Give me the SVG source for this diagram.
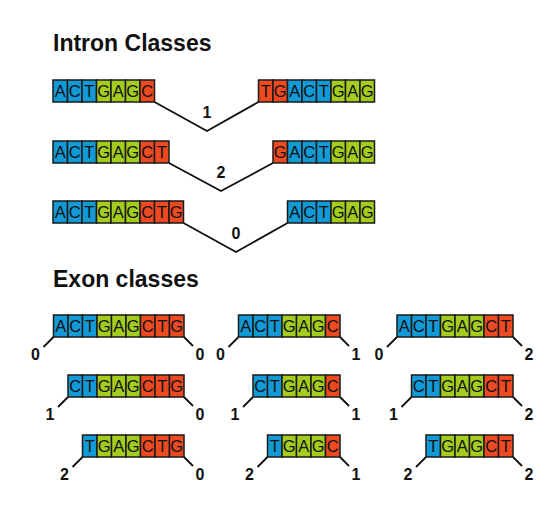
<svg xmlns="http://www.w3.org/2000/svg" width="560" height="531" viewBox="0 0 560 531">
<style>
.b{fill:#129ad7}.g{fill:#a4cc1c}.r{fill:#ee4a22}
rect{stroke:#1a1a1a;stroke-width:1.5;height:22px;width:14.5px}
.seq{font-family:"Liberation Sans",Arial,sans-serif;font-size:16.5px;fill:#111;text-anchor:middle}
.title{font-family:"Liberation Sans",Arial,sans-serif;font-size:23px;font-weight:bold;fill:#111}
.num{font-family:"Liberation Sans",Arial,sans-serif;font-size:16px;font-weight:bold;fill:#111;text-anchor:middle}
.ln{fill:none;stroke:#111;stroke-width:1.8}
</style>
<rect width="560" height="531" x="0" y="0" style="fill:#fff;stroke:none;width:560px;height:531px"/>
<text class="title" x="53" y="51">Intron Classes</text>
<text class="title" x="53" y="287">Exon classes</text>

<g id="intron1-left">
<rect class="b" x="53" y="80"/><rect class="b" x="67.5" y="80"/><rect class="b" x="82" y="80"/><rect class="g" x="96.5" y="80"/><rect class="g" x="111" y="80"/><rect class="g" x="125.5" y="80"/><rect class="r" x="140" y="80"/>
<text class="seq" x="60.25 74.75 89.25 103.75 118.25 132.75 147.25" y="97">ACTGAGC</text>
</g>
<g id="intron1-right">
<rect class="r" x="258.5" y="80"/><rect class="r" x="273" y="80"/><rect class="b" x="287.5" y="80"/><rect class="b" x="302" y="80"/><rect class="b" x="316.5" y="80"/><rect class="g" x="331" y="80"/><rect class="g" x="345.5" y="80"/><rect class="g" x="360" y="80"/>
<text class="seq" x="265.75 280.25 294.75 309.25 323.75 338.25 352.75 367.25" y="97">TGACTGAG</text>
</g>
<g id="intron2-left">
<rect class="b" x="53" y="141"/><rect class="b" x="67.5" y="141"/><rect class="b" x="82" y="141"/><rect class="g" x="96.5" y="141"/><rect class="g" x="111" y="141"/><rect class="g" x="125.5" y="141"/><rect class="r" x="140" y="141"/><rect class="r" x="154.5" y="141"/>
<text class="seq" x="60.25 74.75 89.25 103.75 118.25 132.75 147.25 161.75" y="158">ACTGAGCT</text>
</g>
<g id="intron2-right">
<rect class="r" x="273" y="141"/><rect class="b" x="287.5" y="141"/><rect class="b" x="302" y="141"/><rect class="b" x="316.5" y="141"/><rect class="g" x="331" y="141"/><rect class="g" x="345.5" y="141"/><rect class="g" x="360" y="141"/>
<text class="seq" x="280.25 294.75 309.25 323.75 338.25 352.75 367.25" y="158">GACTGAG</text>
</g>
<g id="intron3-left">
<rect class="b" x="53" y="201"/><rect class="b" x="67.5" y="201"/><rect class="b" x="82" y="201"/><rect class="g" x="96.5" y="201"/><rect class="g" x="111" y="201"/><rect class="g" x="125.5" y="201"/><rect class="r" x="140" y="201"/><rect class="r" x="154.5" y="201"/><rect class="r" x="169" y="201"/>
<text class="seq" x="60.25 74.75 89.25 103.75 118.25 132.75 147.25 161.75 176.25" y="218">ACTGAGCTG</text>
</g>
<g id="intron3-right">
<rect class="b" x="287.5" y="201"/><rect class="b" x="302" y="201"/><rect class="b" x="316.5" y="201"/><rect class="g" x="331" y="201"/><rect class="g" x="345.5" y="201"/><rect class="g" x="360" y="201"/>
<text class="seq" x="294.75 309.25 323.75 338.25 352.75 367.25" y="218">ACTGAG</text>
</g>

<g id="exon-c1r1">
<rect class="b" x="53.5" y="315"/><rect class="b" x="68" y="315"/><rect class="b" x="82.5" y="315"/><rect class="g" x="97" y="315"/><rect class="g" x="111.5" y="315"/><rect class="g" x="126" y="315"/><rect class="r" x="140.5" y="315"/><rect class="r" x="155" y="315"/><rect class="r" x="169.5" y="315"/>
<text class="seq" x="60.75 75.25 89.75 104.25 118.75 133.25 147.75 162.25 176.75" y="332">ACTGAGCTG</text>
</g>
<g id="exon-c1r2">
<rect class="b" x="68" y="375"/><rect class="b" x="82.5" y="375"/><rect class="g" x="97" y="375"/><rect class="g" x="111.5" y="375"/><rect class="g" x="126" y="375"/><rect class="r" x="140.5" y="375"/><rect class="r" x="155" y="375"/><rect class="r" x="169.5" y="375"/>
<text class="seq" x="75.25 89.75 104.25 118.75 133.25 147.75 162.25 176.75" y="392">CTGAGCTG</text>
</g>
<g id="exon-c1r3">
<rect class="b" x="82.5" y="435"/><rect class="g" x="97" y="435"/><rect class="g" x="111.5" y="435"/><rect class="g" x="126" y="435"/><rect class="r" x="140.5" y="435"/><rect class="r" x="155" y="435"/><rect class="r" x="169.5" y="435"/>
<text class="seq" x="89.75 104.25 118.75 133.25 147.75 162.25 176.75" y="452">TGAGCTG</text>
</g>
<g id="exon-c2r1">
<rect class="b" x="238.5" y="315"/><rect class="b" x="253" y="315"/><rect class="b" x="267.5" y="315"/><rect class="g" x="282" y="315"/><rect class="g" x="296.5" y="315"/><rect class="g" x="311" y="315"/><rect class="r" x="325.5" y="315"/>
<text class="seq" x="245.75 260.25 274.75 289.25 303.75 318.25 332.75" y="332">ACTGAGC</text>
</g>
<g id="exon-c2r2">
<rect class="b" x="253" y="375"/><rect class="b" x="267.5" y="375"/><rect class="g" x="282" y="375"/><rect class="g" x="296.5" y="375"/><rect class="g" x="311" y="375"/><rect class="r" x="325.5" y="375"/>
<text class="seq" x="260.25 274.75 289.25 303.75 318.25 332.75" y="392">CTGAGC</text>
</g>
<g id="exon-c2r3">
<rect class="b" x="267.5" y="435"/><rect class="g" x="282" y="435"/><rect class="g" x="296.5" y="435"/><rect class="g" x="311" y="435"/><rect class="r" x="325.5" y="435"/>
<text class="seq" x="274.75 289.25 303.75 318.25 332.75" y="452">TGAGC</text>
</g>
<g id="exon-c3r1">
<rect class="b" x="397" y="315"/><rect class="b" x="411.5" y="315"/><rect class="b" x="426" y="315"/><rect class="g" x="440.5" y="315"/><rect class="g" x="455" y="315"/><rect class="g" x="469.5" y="315"/><rect class="r" x="484" y="315"/><rect class="r" x="498.5" y="315"/>
<text class="seq" x="404.25 418.75 433.25 447.75 462.25 476.75 491.25 505.75" y="332">ACTGAGCT</text>
</g>
<g id="exon-c3r2">
<rect class="b" x="411.5" y="375"/><rect class="b" x="426" y="375"/><rect class="g" x="440.5" y="375"/><rect class="g" x="455" y="375"/><rect class="g" x="469.5" y="375"/><rect class="r" x="484" y="375"/><rect class="r" x="498.5" y="375"/>
<text class="seq" x="418.75 433.25 447.75 462.25 476.75 491.25 505.75" y="392">CTGAGCT</text>
</g>
<g id="exon-c3r3">
<rect class="b" x="426" y="435"/><rect class="g" x="440.5" y="435"/><rect class="g" x="455" y="435"/><rect class="g" x="469.5" y="435"/><rect class="r" x="484" y="435"/><rect class="r" x="498.5" y="435"/>
<text class="seq" x="433.25 447.75 462.25 476.75 491.25 505.75" y="452">TGAGCT</text>
</g>

<g id="connectors">
<polyline class="ln" points="154.5,102 207,131 258.5,102"/>
<polyline class="ln" points="169,163 221,191 273,163"/>
<polyline class="ln" points="183.5,223 236,252 287.5,223"/>
<path class="ln" d="M53.5,337 l-10,10 M184,337 l9,9 M68,397 l-10,10 M184,397 l9,9 M82.5,457 l-10,10 M184,457 l9,9 M238.5,337 l-10,10 M340,337 l9,9 M253,397 l-10,10 M340,397 l9,9 M267.5,457 l-10,10 M340,457 l9,9 M397,337 l-10,10 M513,337 l9,9 M411.5,397 l-10,10 M513,397 l9,9 M426,457 l-10,10 M513,457 l9,9"/>
<text class="num" x="207" y="118">1</text>
<text class="num" x="221" y="178">2</text>
<text class="num" x="236" y="239">0</text>
<text class="num" x="35.5" y="360">0</text><text class="num" x="200" y="360">0</text>
<text class="num" x="50" y="420">1</text><text class="num" x="200" y="420">0</text>
<text class="num" x="64.5" y="480">2</text><text class="num" x="200" y="480">0</text>
<text class="num" x="220.5" y="360">0</text><text class="num" x="356" y="360">1</text>
<text class="num" x="235" y="420">1</text><text class="num" x="356" y="420">1</text>
<text class="num" x="249.5" y="480">2</text><text class="num" x="356" y="480">1</text>
<text class="num" x="379" y="360">0</text><text class="num" x="529" y="360">2</text>
<text class="num" x="393.5" y="420">1</text><text class="num" x="529" y="420">2</text>
<text class="num" x="408" y="480">2</text><text class="num" x="529" y="480">2</text>
</g>
</svg>
